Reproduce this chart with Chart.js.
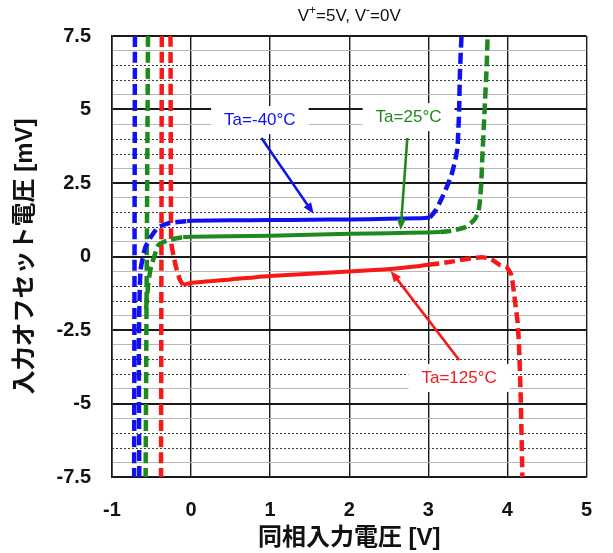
<!DOCTYPE html>
<html>
<head>
<meta charset="utf-8">
<script src="https://cdn.jsdelivr.net/npm/chart.js@4.4.1/dist/chart.umd.min.js"></script>
<style>
  html, body { margin: 0; padding: 0; background: #fff; }
  canvas { display: block; }
</style>
</head>
<body>
<canvas id="chart" width="613" height="553"></canvas>
<script>
// Axis ticks
const xTickValues = [-1, 0, 1, 2, 3, 4, 5];
const yTickLabels = [7.5, 5, 2.5, 0, -2.5, -5, -7.5];

// Ta=-40°C : common-mode input voltage [V] / input offset voltage [mV]
const n40RailX = [-0.71, -0.715, -0.72];
const n40RailY = [7.5, 0, -7.5];
const n40KneeX = [-0.655, -0.66, -0.64, -0.58, -0.5, -0.42, -0.3, -0.15, -0.05];
const n40KneeY = [-7.5, -3, -0.5, 0.3, 0.7, 0.98, 1.12, 1.18, 1.2];
const n40FlatX = [-0.05, 0, 0.5, 1, 1.5, 2, 2.5, 2.9, 3.02];
const n40FlatY = [1.2, 1.22, 1.23, 1.24, 1.25, 1.26, 1.28, 1.3, 1.32];
const n40RiseX = [3.02, 3.1, 3.16, 3.24, 3.3, 3.35, 3.37, 3.39, 3.4, 3.42];
const n40RiseY = [1.32, 1.6, 1.92, 2.4, 2.84, 3.4, 3.73, 4.98, 6.24, 7.5];

// Ta=25°C
const p25RailX = [-0.545, -0.56, -0.575];
const p25RailY = [7.5, 0, -7.5];
const p25KneeX = [-0.57, -0.54, -0.51, -0.46, -0.41, -0.28, -0.1];
const p25KneeY = [-1.8, -0.9, -0.4, 0.05, 0.4, 0.56, 0.66];
const p25FlatX = [-0.1, 0, 0.5, 1, 1.5, 2, 2.5, 3, 3.15];
const p25FlatY = [0.66, 0.67, 0.69, 0.71, 0.74, 0.77, 0.79, 0.82, 0.83];
const p25RiseX = [3.15, 3.3, 3.47, 3.58, 3.63, 3.65, 3.67, 3.68, 3.71, 3.74, 3.75];
const p25RiseY = [0.83, 0.88, 1.0, 1.24, 1.5, 1.8, 2.5, 3.17, 4.87, 6.58, 7.5];

// Ta=125°C
const p125RailX = [-0.37, -0.375, -0.38];
const p125RailY = [7.5, 0, -7.5];
const p125KneeX = [-0.26, -0.255, -0.25, -0.22, -0.19, -0.14, -0.1];
const p125KneeY = [7.5, 2, 0.46, 0, -0.36, -0.8, -0.97];
const p125FlatX = [-0.1, 0, 0.5, 1, 1.5, 1.94, 2.48, 2.9, 3.0];
const p125FlatY = [-0.97, -0.9, -0.78, -0.66, -0.59, -0.52, -0.43, -0.32, -0.28];
const p125FallX = [3.0, 3.27, 3.45, 3.6, 3.7, 3.8, 3.9, 3.99, 4.05, 4.09, 4.13, 4.15, 4.17, 4.19];
const p125FallY = [-0.28, -0.19, -0.1, -0.04, -0.03, -0.1, -0.28, -0.36, -0.63, -1.38, -2.26, -3.2, -4.9, -7.5];

const BLUE = '#1010f0';
const GREEN = '#1e8a1e';
const RED = '#f81818';
const FONT = "'Liberation Sans', Arial, 'Noto Sans CJK JP', sans-serif";

const toPoints = (xs, ys) => xs.map((x, i) => ({ x, y: ys[i] }));

function dashed(xs, ys, color) {
  return {
    data: toPoints(xs, ys), showLine: true, borderColor: color, backgroundColor: color,
    borderWidth: 4.5, borderDash: [11, 5], pointRadius: 0, tension: 0.2, fill: false
  };
}
function solid(xs, ys, color) {
  return {
    data: toPoints(xs, ys), showLine: true, borderColor: color, backgroundColor: color,
    borderWidth: 4, pointRadius: 0, tension: 0.2, fill: false
  };
}

// Curve labels and their pointer arrows, in data units
const curveLabels = [
  { text: 'Ta=-40°C', x: 0.87, y: 4.64, color: BLUE },
  { text: 'Ta=25°C', x: 2.75, y: 4.74, color: GREEN },
  { text: 'Ta=125°C', x: 3.39, y: -4.13, color: RED }
];
const pointerArrows = [
  { x0: 0.89, y0: 4.03, x1: 1.55, y1: 1.45, color: BLUE },
  { x0: 2.735, y0: 4.03, x1: 2.65, y1: 0.9, color: GREEN },
  { x0: 3.39, y0: -3.52, x1: 2.525, y1: -0.49, color: RED }
];

const isMajor = v => Math.abs(v / 2.5 - Math.round(v / 2.5)) < 1e-6;
// minor rows inside each 2.5 band: 1 and 4 are light solid, 2 and 3 dark dotted
const minorSlot = v => ((Math.round((v + 7.5) / 0.5) % 5) + 5) % 5;

const decorPlugin = {
  id: 'decor',
  beforeDraw(chart) {
    const c = chart.ctx;
    c.save();
    c.fillStyle = '#fff';
    c.fillRect(0, 0, chart.width, chart.height);
    c.restore();
  },
  beforeDatasetsDraw(chart) {
    const c = chart.ctx, xs = chart.scales.x, ys = chart.scales.y, a = chart.chartArea;
    c.save();
    // dotted minor rows
    c.strokeStyle = '#3a3a3a';
    c.lineWidth = 1;
    c.setLineDash([2, 2]);
    for (let k = 0; k <= 30; k++) {
      const v = -7.5 + k * 0.5;
      const s = minorSlot(v);
      if (s === 2 || s === 3) {
        const py = Math.round(ys.getPixelForValue(v)) + 0.5;
        c.beginPath(); c.moveTo(a.left, py); c.lineTo(a.right, py); c.stroke();
      }
    }
    c.setLineDash([]);
    // label boxes
    c.font = '17px ' + FONT;
    c.textAlign = 'center';
    c.textBaseline = 'middle';
    curveLabels.forEach(l => {
      const px = xs.getPixelForValue(l.x), py = ys.getPixelForValue(l.y);
      const w = c.measureText(l.text).width + 26;
      c.fillStyle = '#fff';
      c.fillRect(px - w / 2, py - 14, w, 28);
      c.fillStyle = l.color;
      c.fillText(l.text, px, py);
    });
    c.restore();
  },
  afterDatasetsDraw(chart) {
    const c = chart.ctx, xs = chart.scales.x, ys = chart.scales.y;
    c.save();
    pointerArrows.forEach(ar => {
      const x0 = xs.getPixelForValue(ar.x0), y0 = ys.getPixelForValue(ar.y0);
      const x1 = xs.getPixelForValue(ar.x1), y1 = ys.getPixelForValue(ar.y1);
      const ang = Math.atan2(y1 - y0, x1 - x0);
      const hl = 11, hw = 4.5;
      c.strokeStyle = ar.color; c.fillStyle = ar.color; c.lineWidth = 2.6;
      c.beginPath();
      c.moveTo(x0, y0);
      c.lineTo(x1 - Math.cos(ang) * hl * 0.8, y1 - Math.sin(ang) * hl * 0.8);
      c.stroke();
      c.beginPath();
      c.moveTo(x1, y1);
      c.lineTo(x1 - Math.cos(ang) * hl - Math.sin(ang) * hw, y1 - Math.sin(ang) * hl + Math.cos(ang) * hw);
      c.lineTo(x1 - Math.cos(ang) * hl + Math.sin(ang) * hw, y1 - Math.sin(ang) * hl - Math.cos(ang) * hw);
      c.closePath(); c.fill();
    });
    // supply condition heading
    const a = chart.chartArea;
    const parts = [
      { t: 'V', sup: false }, { t: '+', sup: true }, { t: '=5V, V', sup: false },
      { t: '-', sup: true }, { t: '=0V', sup: false }
    ];
    const big = '17px ' + FONT, small = '12px ' + FONT;
    let total = 0;
    parts.forEach(p => { c.font = p.sup ? small : big; p.w = c.measureText(p.t).width; total += p.w; });
    let cx = (a.left + a.right) / 2 - total / 2;
    c.fillStyle = '#111';
    c.textAlign = 'left';
    c.textBaseline = 'alphabetic';
    parts.forEach(p => {
      c.font = p.sup ? small : big;
      c.fillText(p.t, cx, p.sup ? 14 : 21);
      cx += p.w;
    });
    c.restore();
  }
};

new Chart(document.getElementById('chart'), {
  type: 'scatter',
  data: {
    datasets: [
      dashed(n40RailX, n40RailY, BLUE),
      dashed(n40KneeX, n40KneeY, BLUE),
      solid(n40FlatX, n40FlatY, BLUE),
      dashed(n40RiseX, n40RiseY, BLUE),
      dashed(p25RailX, p25RailY, GREEN),
      dashed(p25KneeX, p25KneeY, GREEN),
      solid(p25FlatX, p25FlatY, GREEN),
      dashed(p25RiseX, p25RiseY, GREEN),
      dashed(p125RailX, p125RailY, RED),
      dashed(p125KneeX, p125KneeY, RED),
      solid(p125FlatX, p125FlatY, RED),
      dashed(p125FallX, p125FallY, RED)
    ]
  },
  options: {
    responsive: false,
    animation: false,
    devicePixelRatio: 1,
    layout: { padding: { top: 36, right: 16, left: 0, bottom: 0 } },
    plugins: { legend: { display: false }, tooltip: { enabled: false } },
    scales: {
      x: {
        type: 'linear', min: xTickValues[0], max: xTickValues[xTickValues.length - 1],
        afterBuildTicks(s) { s.ticks = xTickValues.map(v => ({ value: v })); },
        ticks: {
          color: '#111', padding: 21, font: { family: FONT, size: 20, weight: 'bold' },
          callback: v => String(v)
        },
        grid: { color: '#1a1a1a', lineWidth: 1.4, drawTicks: false },
        border: { color: '#1a1a1a', width: 1.6 },
        title: {
          display: true, text: '同相入力電圧 [V]', color: '#111',
          font: { family: FONT, size: 24, weight: 'bold' }, padding: { top: 0, bottom: 0 }
        },
        afterFit(s) { s.height = 76; }
      },
      y: {
        type: 'linear', min: -7.5, max: 7.5,
        ticks: {
          stepSize: 0.5, autoSkip: false, color: '#111', padding: 21,
          font: { family: FONT, size: 20, weight: 'bold' },
          callback: v => {
            const hit = yTickLabels.find(t => Math.abs(t - v) < 1e-6);
            return hit === undefined ? '' : String(hit);
          }
        },
        grid: {
          drawTicks: false,
          color: ctx => {
            const v = ctx.tick.value;
            if (isMajor(v)) return '#1a1a1a';
            const s = minorSlot(v);
            return (s === 1 || s === 4) ? '#b8b8b8' : 'rgba(0,0,0,0)';
          },
          lineWidth: ctx => isMajor(ctx.tick.value) ? 2 : 1
        },
        border: { color: '#1a1a1a', width: 1.6 },
        title: {
          display: true, text: '入力オフセット電圧 [mV]', color: '#111',
          font: { family: FONT, size: 24, weight: 'bold' }, padding: { top: 11, bottom: 0 }
        },
        afterFit(s) { s.width = 112; }
      }
    }
  },
  plugins: [decorPlugin]
});
</script>
</body>
</html>
